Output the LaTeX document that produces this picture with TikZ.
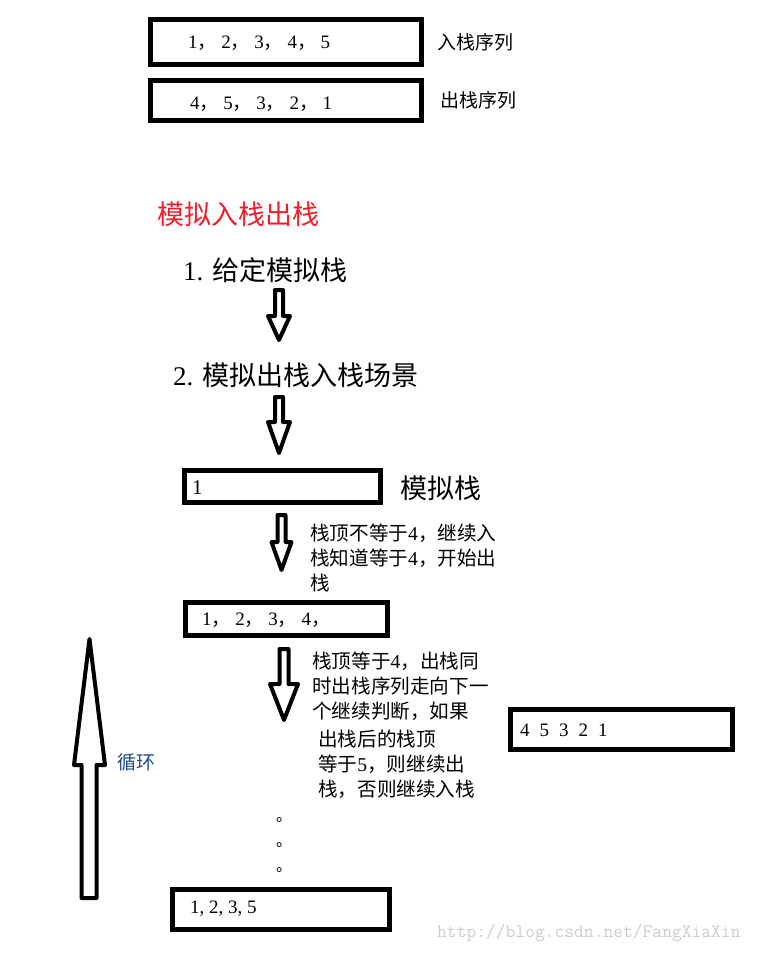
\documentclass[tikz,border=0pt]{standalone}
\usepackage{fontspec}
\setmainfont{Liberation Serif}
\newfontfamily\cjk{Noto Sans CJK SC}
\newcommand\dg[1]{{\rmfamily #1}}
\newcommand\cm{{\cjk ，}\hspace{4.6pt}}
\definecolor{headred}{RGB}{240,30,40}
\definecolor{loopblue}{RGB}{30,75,135}
\definecolor{wmgray}{RGB}{205,205,200}
\newcommand\downarr[6]{% #1 cx, #2 top, #3 head base, #4 tip, #5 half shaft, #6 half head
  \draw[blockarrow] (#1-#5,#2) -- (#1+#5,#2) -- (#1+#5,#3) -- (#1+#6,#3) -- (#1,#4)
    -- (#1-#6,#3) -- (#1-#5,#3) -- cycle;}
\tikzset{
  box/.style={draw, line width=5pt, inner sep=0pt, outer sep=0pt},
  blockarrow/.style={draw, line width=4pt, fill=white, line join=round},
  txt/.style={font=\cjk\fontsize{19}{25}\selectfont, inner sep=0pt, anchor=west},
  desc/.style={font=\cjk\fontsize{19.6}{25}\selectfont, inner sep=0pt, anchor=north west, align=left},
  num/.style={font=\rmfamily\fontsize{19}{25}\selectfont, inner sep=0pt, anchor=west},
  big/.style={font=\cjk\fontsize{27}{32}\selectfont, inner sep=0pt, anchor=west},
}
\begin{document}
\begin{tikzpicture}[x=1pt, y=-1pt]
\useasboundingbox (0,0) rectangle (757,954);

% top sequences
\node[box, minimum width=271pt, minimum height=45pt] (in) at (286,42) {};
\node[num] (intext) at (188,43) {1\cm 2\cm 3\cm 4\cm 5};
\node[txt] (inlab) at (437,42) {入栈序列};
\node[box, minimum width=271pt, minimum height=40pt] (out) at (286,100.5) {};
\node[num] (outtext) at (190,104.5) {4\cm 5\cm 3\cm 2\cm 1};
\node[txt] (outlab) at (440,100) {出栈序列};

% headings
\node[big, text=headred] (title) at (157,214) {模拟入栈出栈};
\node[big] (step1) at (183,270) {\dg{1. }给定模拟栈};
\node[big] (step2) at (173,375) {\dg{2. }模拟出栈入栈场景};
\downarr{279}{290}{316}{340}{4}{11}
\downarr{279}{397}{422}{453}{4}{11}

% simulated stack
\node[box, minimum width=196pt, minimum height=32pt] (s1) at (282.5,486.5) {};
\node[num, font=\rmfamily\fontsize{21}{25}\selectfont] (s1text) at (192,488) {1};
\node[big] (slab) at (400,488) {模拟栈};
\downarr{281.5}{515}{542}{570}{4}{10}
\node[desc] (d1) at (310,523.5)
  {栈顶不等于\dg{4}，继续入\\栈知道等于\dg{4}，开始出\\栈};

\node[box, minimum width=202pt, minimum height=33pt] (s2) at (286.5,619) {};
\node[num] (s2text) at (202,620.5) {1\cm 2\cm 3\cm 4{\cjk ，}};
\downarr{284}{649}{684}{720}{4.5}{14}
\node[desc] (d2) at (312,651.5)
  {栈顶等于\dg{4}，出栈同\\时出栈序列走向下一\\个继续判断，如果};
\node[desc] (d3) at (318,729.5)
  {出栈后的栈顶\\等于\dg{5}，则继续出\\栈，否则继续入栈};

\node[box, minimum width=222pt, minimum height=40pt] (seq) at (621.5,729.5) {};
\node[num] (seqtext) at (520,730) {4\hspace{10pt}5\hspace{10pt}3\hspace{10pt}2\hspace{10pt}1};

% dots
\node[font=\cjk\fontsize{16}{25}\selectfont, inner sep=0pt, anchor=north west, align=left] (dots) at (276,817.6) {。\\。\\。};

% final stack
\node[box, minimum width=217pt, minimum height=40pt] (s3) at (281,909.5) {};
\node[num] (s3text) at (190,909) {1, 2, 3, 5};

% loop arrow
\draw[blockarrow] (81.5,898) -- (96.5,898) -- (96.5,765) -- (105,765) -- (89.5,639)
  -- (74,765) -- (81.5,765) -- cycle;
\node[txt, text=loopblue] (loop) at (117,762) {循环};

% watermark
\node[font=\ttfamily\fontsize{19}{22}\selectfont, text=wmgray, inner sep=0pt, anchor=west] (wm) at (437,933) {http://blog.csdn.net/FangXiaXin};
\end{tikzpicture}
\end{document}
